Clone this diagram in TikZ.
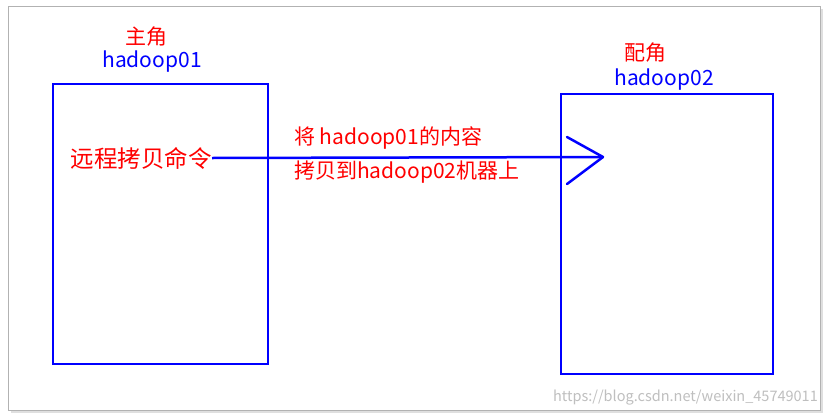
\documentclass[tikz,border=0pt]{standalone}
\usepackage{fontspec}
\setmainfont{Noto Sans CJK SC}
\newfontfamily\cjk{Noto Sans CJK SC}
\begin{document}
\begin{tikzpicture}[x=1pt,y=-1pt,
  box/.style={draw=blue,line width=2.2pt},
  red/.style={text=red,font=\cjk\fontsize{21}{24}\selectfont,inner sep=0},
  blu/.style={text=blue,font=\cjk\fontsize{21}{24}\selectfont,inner sep=0}]
\useasboundingbox (0,0) rectangle (828,418);
\fill[gray!25] (11,9) rectangle (823,413);
\draw[gray!60,fill=white] (8,6) rectangle (820,410);
\draw[box] (53,84) rectangle (268,364);
\draw[box] (561,94) rectangle (773,374);
\node[red] (t1) at (146,37) {主角};
\node[blu] (h1) at (152,62) {hadoop01};
\node[red] (t2) at (645,53) {配角};
\node[blu] (h2) at (664,80) {hadoop02};
\node[red,anchor=east,font=\cjk\fontsize{23.5}{26}\selectfont] (cmd) at (212,158) {远程拷贝命令};
\coordinate (tip) at (603,157);
\draw[blue,line width=2.5pt] (cmd.east) -- (tip);
\draw[blue,line width=2.5pt,line cap=round,line join=round] (567,137) -- (tip) -- (567,184);
\node[red,anchor=west,font=\cjk\fontsize{21}{24}\selectfont] (l1) at (294,138) {将 hadoop01的内容};
\node[red,anchor=west,font=\cjk\fontsize{21}{24}\selectfont] (l2) at (294,172) {拷贝到hadoop02机器上};
\node[text=gray!50,font=\cjk\fontsize{14.5}{16}\selectfont,anchor=east,inner sep=0] (wm) at (818,398) {https://blog.csdn.net/weixin\_45749011};
\end{tikzpicture}
\end{document}
